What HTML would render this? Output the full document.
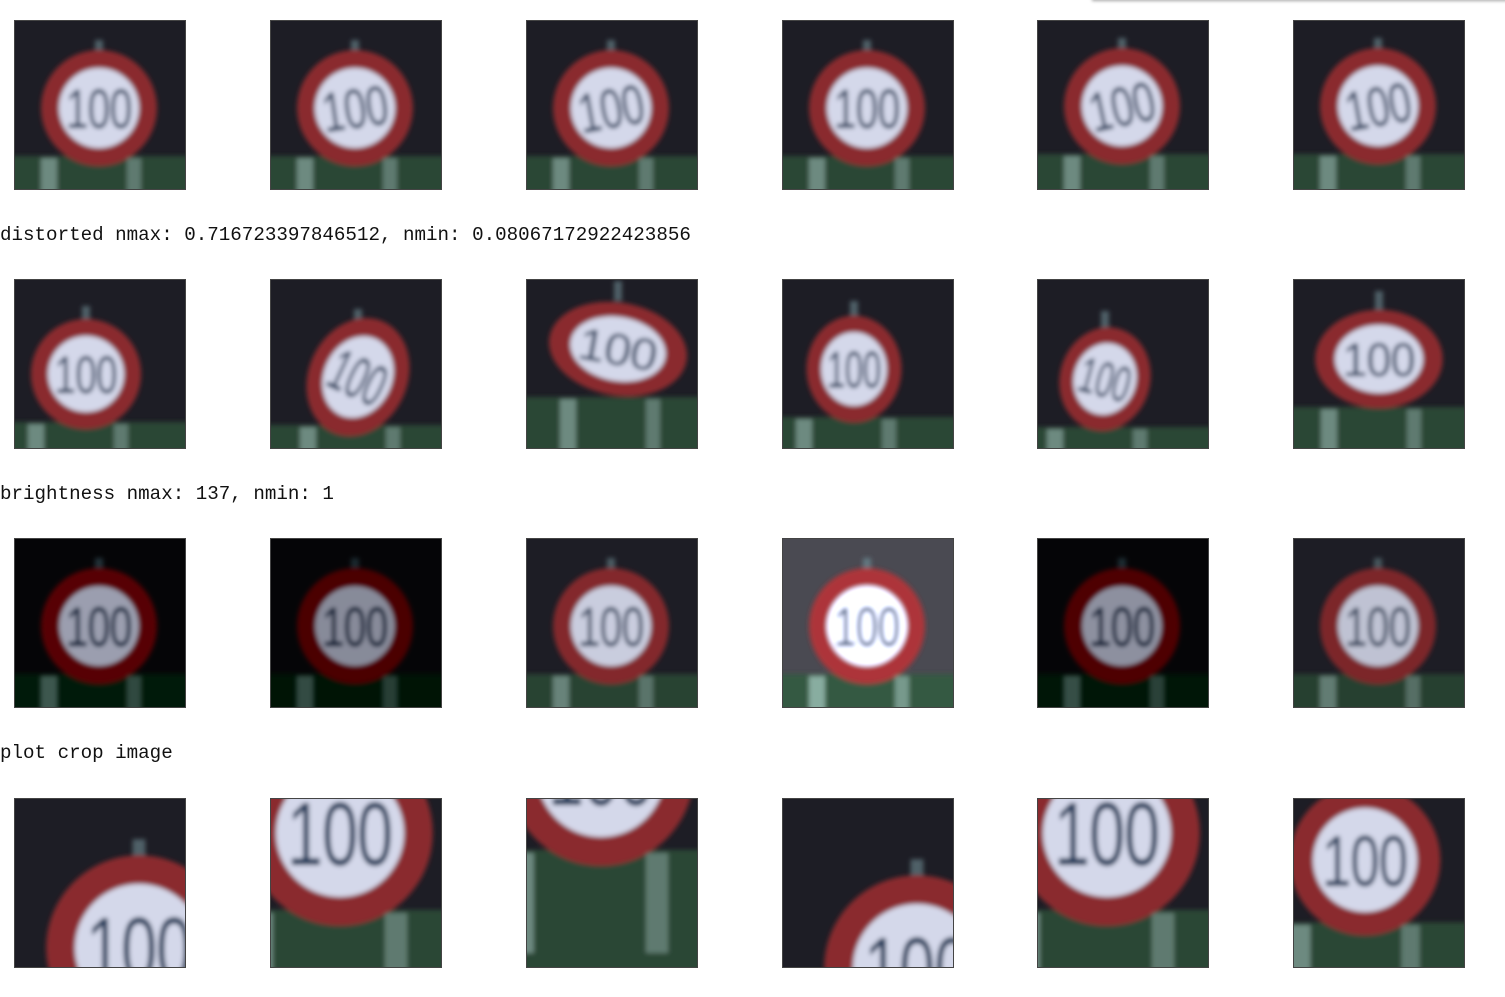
<!DOCTYPE html>
<html><head><meta charset="utf-8">
<style>
html,body{margin:0;width:1505px;height:997px;background:#fff;position:relative;overflow:hidden;font-family:"Liberation Mono",monospace}
.shadow{position:absolute;left:1092px;top:-4px;width:420px;height:4px;background:#eee;box-shadow:0 1px 3px rgba(0,0,0,.35)}
.lbl{position:absolute;left:0;font-size:19.2px;color:#111;white-space:pre;line-height:24px}
svg.img{position:absolute;width:172px;height:170px}
</style></head><body>
<div class="shadow"></div>
<div class="lbl" style="top:223px">distorted nmax: 0.716723397846512, nmin: 0.08067172922423856</div>
<div class="lbl" style="top:482px">brightness nmax: 137, nmin: 1</div>
<div class="lbl" style="top:741px">plot crop image</div>
<script>
const colX=[14,270,526,782,1037,1293];
const rowY=[20,279,538,798];
// per image: [scaleX, scaleY, rotate, cx, cy, brightness, zoom]
const rows=[
 [[1,1,0,85,88,1,1],[1,1,-8,85,88,1,1],[1,1,-10,85,88,1,1],[1,1,0,85,88,1,1],[1,1,-12,85,86,1,1],[1,1,-10,85,86,1,1]],
 [[0.95,0.95,0,72,95,1,1],[0.85,1.05,25,88,98,1,1],[1.2,0.8,10,92,70,1,1],[0.82,0.92,0,72,90,1,1],[0.78,0.9,15,68,100,1,1],[1.1,0.85,0,86,80,1,1]],
 [[1,1,0,85,88,0.45,1],[1,1,0,85,88,0.38,1],[1,1,0,85,88,0.95,1],[1,1,0,85,88,1.25,1],[1,1,0,85,88,0.4,1],[1,1,0,85,88,0.9,1]],
 [[1,1,0,125,150,1,1.6],[1,1,0,70,35,1,1.6],[1,1,0,75,-25,1,1.6],[1,1,0,135,170,1,1.6],[1,1,0,70,35,1,1.6],[1,1,0,72,62,1,1.3]]
];
const NS="http://www.w3.org/2000/svg";
let id=0;
rows.forEach((row,r)=>row.forEach((p,c)=>{
  const [sx,sy,rot,cx,cy,br,z]=p;id++;
  const s=document.createElementNS(NS,"svg");
  
  
  s.setAttribute("class","img");
  s.setAttribute("viewBox","0 0 172 170");
  s.style.left=colX[c]+"px";s.style.top=rowY[r]+"px";
  const bg=br>1.1?"#4a4a52":(br<0.5?"#050507":"#1d1d25");
  const f=br<0.5?`brightness(${br+0.25}) contrast(1.3)`:`brightness(${br})`;
  s.innerHTML=`<defs><filter id="b${id}" x="-20%" y="-20%" width="140%" height="140%"><feGaussianBlur stdDeviation="2.5"/></filter><clipPath id="c${id}"><rect width="172" height="170"/></clipPath></defs>
  <g clip-path="url(#c${id})">
  <rect width="172" height="170" fill="${bg}"/>
  <g style="filter:${f}"><g filter="url(#b${id})">
  <rect x="-50" y="${cy+48*z}" width="300" height="200" fill="#2c4636"/>
  <rect x="${cx-58*z}" y="${cy+50*z}" width="${16*z}" height="100" fill="#6d8a80"/>
  <rect x="${cx+28*z}" y="${cy+50*z}" width="${14*z}" height="100" fill="#5e7a70"/>
  <rect x="${cx-4*z}" y="${cy-68*z}" width="${8*z}" height="${20*z}" fill="#506068"/>
  <g transform="translate(${cx},${cy}) rotate(${rot}) scale(${sx*z},${sy*z})">
   <circle r="58" fill="#8a2a2e"/>
   <circle r="40" fill="#d4d8ea"/>
   <text x="0" y="20" text-anchor="middle" font-family="Liberation Sans Narrow,Liberation Sans,sans-serif" font-size="56" fill="#233a5a" transform="scale(0.72,1)" textLength="92">100</text>
  </g></g></g></g>
  <rect x="0.5" y="0.5" width="171" height="169" fill="none" stroke="#444" stroke-width="1"/>`;
  document.body.appendChild(s);
}));
</script>
</body></html>
